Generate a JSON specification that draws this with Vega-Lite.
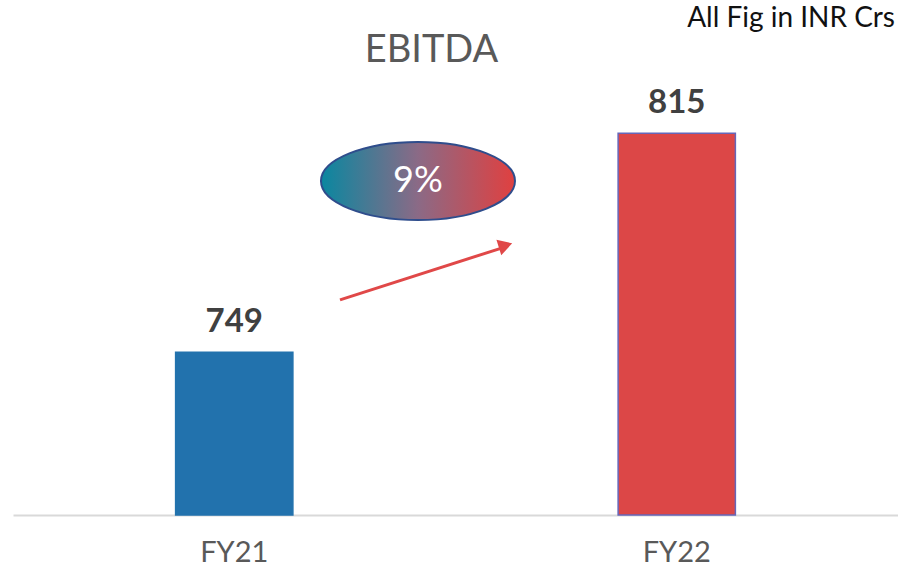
{
  "$schema": "https://vega.github.io/schema/vega-lite/v6.json",
  "autosize": {"type": "none"},
  "width": 885,
  "height": 498,
  "padding": {"left": 13, "top": 17, "right": 0, "bottom": 58},
  "background": "white",
  "title": {
    "text": "EBITDA",
    "font": "Lato",
    "fontSize": 38,
    "fontWeight": "normal",
    "color": "#595959",
    "anchor": "middle",
    "dx": -24,
    "offset": -65
  },
  "datasets": {
    "bars": [
      {"period": "FY21", "ebitda": 749},
      {"period": "FY22", "ebitda": 815}
    ],
    "badge": [
      {"px": 0.4576, "py": 800.6, "label": "9%"}
    ],
    "arrow": [
      {"x1": 0.3695, "y1": 764.8, "x2": 0.552, "y2": 780.4}
    ],
    "arrowhead": [
      {"px": 0.5565, "py": 781.2}
    ],
    "note": [
      {"px": 1.0, "py": 847.0, "label": "All Fig in INR Crs"}
    ]
  },
  "layer": [
    {
      "layer": [
        {
          "data": {"name": "bars"},
          "mark": {"type": "bar", "strokeWidth": 1.5, "clip": false},
          "encoding": {
            "x": {
              "field": "period",
              "type": "nominal",
              "sort": null,
              "scale": {"paddingInner": 0.735, "paddingOuter": 0.3675},
              "axis": {
                "title": null,
                "labelAngle": 0,
                "labelFont": "Lato",
                "labelFontSize": 29,
                "labelColor": "#595959",
                "labelPadding": 23,
                "ticks": false,
                "domainColor": "#d9d9d9",
                "domainWidth": 2,
                "grid": false
              }
            },
            "y": {
              "field": "ebitda",
              "type": "quantitative",
              "scale": {"domain": [700, 850], "zero": false, "nice": false},
              "axis": null
            },
            "y2": {"datum": 700},
            "color": {
              "field": "period",
              "type": "nominal",
              "scale": {"domain": ["FY21", "FY22"], "range": ["#2272ad", "#dc4747"]},
              "legend": null
            },
            "stroke": {
              "field": "period",
              "type": "nominal",
              "scale": {"domain": ["FY21", "FY22"], "range": ["#2272ad", "#6666b8"]},
              "legend": null
            }
          }
        },
        {
          "data": {"name": "bars"},
          "mark": {"type": "text", "font": "Lato", "fontSize": 33, "fontWeight": "bold", "color": "#404040", "baseline": "alphabetic", "dy": -20},
          "encoding": {
            "x": {"field": "period", "type": "nominal", "sort": null},
            "y": {"field": "ebitda", "type": "quantitative"},
            "text": {"field": "ebitda", "type": "quantitative"}
          }
        }
      ]
    },
    {
      "layer": [
        {
          "data": {"name": "arrow"},
          "mark": {"type": "rule", "color": "#e04848", "strokeWidth": 3},
          "encoding": {
            "x": {"field": "x1", "type": "quantitative", "scale": {"domain": [0, 1], "nice": false, "zero": false}, "axis": null},
            "x2": {"field": "x2"},
            "y": {"field": "y1", "type": "quantitative"},
            "y2": {"field": "y2"}
          }
        },
        {
          "data": {"name": "arrowhead"},
          "mark": {"type": "point", "shape": "triangle-right", "filled": true, "color": "#e04848", "opacity": 1, "size": 260, "angle": 342.6},
          "encoding": {
            "x": {"field": "px", "type": "quantitative"},
            "y": {"field": "py", "type": "quantitative"}
          }
        },
        {
          "data": {"name": "badge"},
          "mark": {
            "type": "point",
            "shape": "M -1 0 A 1 0.402 0 1 1 1 0 A 1 0.402 0 1 1 -1 0 Z",
            "size": 37636,
            "filled": true,
            "opacity": 1,
            "fill": {
              "gradient": "linear",
              "x1": 0, "y1": 0, "x2": 1, "y2": 0,
              "stops": [
                {"offset": 0, "color": "#0a87a0"},
                {"offset": 0.5, "color": "#8b6a86"},
                {"offset": 1, "color": "#e04040"}
              ]
            },
            "stroke": "#2f4d8c",
            "strokeWidth": 2
          },
          "encoding": {
            "x": {"field": "px", "type": "quantitative"},
            "y": {"field": "py", "type": "quantitative"}
          }
        },
        {
          "data": {"name": "badge"},
          "mark": {"type": "text", "font": "Lato", "fontSize": 36, "color": "white", "baseline": "middle", "align": "center"},
          "encoding": {
            "x": {"field": "px", "type": "quantitative"},
            "y": {"field": "py", "type": "quantitative"},
            "text": {"field": "label"}
          }
        },
        {
          "data": {"name": "note"},
          "mark": {"type": "text", "font": "Lato", "fontSize": 28, "color": "#111111", "baseline": "alphabetic", "align": "right", "dx": -3},
          "encoding": {
            "x": {"field": "px", "type": "quantitative"},
            "y": {"field": "py", "type": "quantitative"},
            "text": {"field": "label"}
          }
        }
      ]
    }
  ],
  "resolve": {"scale": {"x": "independent"}, "axis": {"x": "independent"}},
  "config": {"view": {"stroke": null}}
}
